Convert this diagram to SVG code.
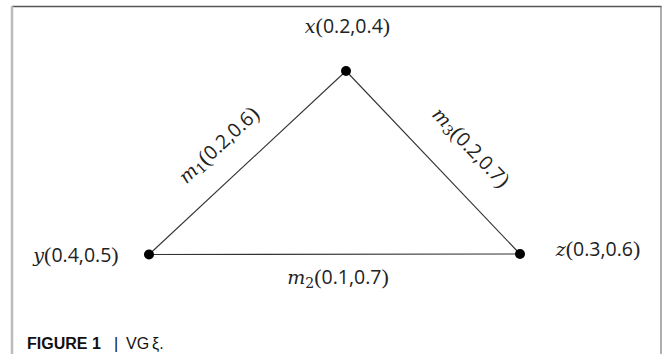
<svg xmlns="http://www.w3.org/2000/svg" width="664" height="354" viewBox="0 0 664 354">
<style>
.lbl{font-family:"Liberation Serif","DejaVu Serif",serif;font-size:22px;fill:#222}
.v{font-style:italic;font-family:"DejaVu Serif","Liberation Serif",serif;font-size:19px}
.n{font-family:"Open Sans","Liberation Sans",sans-serif;font-size:19.5px}
.sub{font-family:"DejaVu Serif","Liberation Serif",serif;font-size:14px}
.edge{stroke:#333;stroke-width:1.1;fill:none}
.dot{fill:#000}
.cap{font-family:"Liberation Sans",Arial,sans-serif;font-size:16px;fill:#111}
</style>
<rect x="0" y="0" width="664" height="354" fill="#fff"/>
<g id="frame">
<line x1="12" y1="6.5" x2="661.5" y2="6.5" stroke="#555" stroke-width="1.6"/>
<line x1="12" y1="6" x2="12" y2="354" stroke="#bbb" stroke-width="2.5"/>
<line x1="661" y1="6" x2="661" y2="354" stroke="#777" stroke-width="1.2"/>
</g>
<g id="connectors">
<line class="edge" x1="149" y1="254.5" x2="346" y2="71"/>
<line class="edge" x1="346" y1="71" x2="520" y2="254"/>
<line class="edge" x1="149" y1="254.5" x2="520" y2="254" stroke-width="1.6"/>
<text class="lbl" transform="translate(223.4,150) rotate(-43)" text-anchor="middle"><tspan class="v">m</tspan><tspan class="sub" dy="3">1</tspan><tspan dy="-3">(</tspan><tspan class="n">0.2,0.6</tspan>)</text>
<text class="lbl" transform="translate(466,152) rotate(46.3)" text-anchor="middle"><tspan class="v">m</tspan><tspan class="sub" dy="3">3</tspan><tspan dy="-3">(</tspan><tspan class="n">0.2,0.7</tspan>)</text>
<text class="lbl" x="338" y="284" text-anchor="middle"><tspan class="v">m</tspan><tspan class="sub" dy="4">2</tspan><tspan dy="-4">(</tspan><tspan class="n">0.1,0.7</tspan>)</text>
</g>
<g id="node-x">
<circle class="dot" cx="346" cy="71" r="5"/>
<text class="lbl" x="347.5" y="33" text-anchor="middle"><tspan class="v">x</tspan>(<tspan class="n">0.2,0.4</tspan>)</text>
</g>
<g id="node-y">
<circle class="dot" cx="149" cy="254.5" r="5"/>
<text class="lbl" x="76" y="262" text-anchor="middle"><tspan class="v">y</tspan>(<tspan class="n">0.4,0.5</tspan>)</text>
</g>
<g id="node-z">
<circle class="dot" cx="520" cy="254" r="5"/>
<text class="lbl" x="598" y="256" text-anchor="middle"><tspan class="v">z</tspan>(<tspan class="n">0.3,0.6</tspan>)</text>
</g>
<g id="caption">
<text class="cap" y="349"><tspan x="27" font-weight="bold">FIGURE 1</tspan><tspan x="114">|</tspan><tspan x="126">VG</tspan><tspan x="152">ξ.</tspan></text>
</g>
</svg>
